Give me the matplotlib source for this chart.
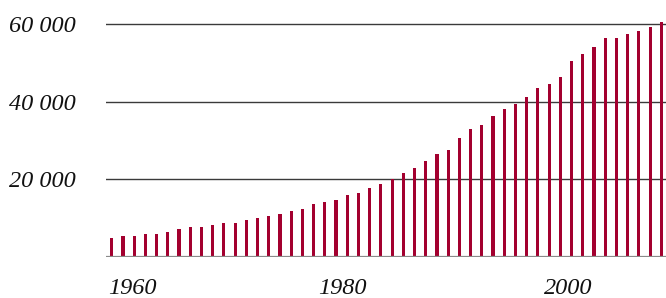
import matplotlib
matplotlib.use('Agg')
from matplotlib import pyplot as plt
import numpy as np

# yearly values
years = list(range(1959, 2009))
values = [4750, 5350, 5350, 5950, 5950, 6450, 7100, 7650, 7650, 8200,
          8800, 8800, 9400, 10000, 10500, 11100, 11700, 12300, 13550, 14150,
          14650, 15850, 16450, 17650, 18800, 20000, 21700, 22900, 24650, 26450,
          27550, 30600, 32900, 34050, 36450, 38150, 39400, 41200, 43500, 44600,
          46450, 50500, 52300, 54100, 56450, 56450, 57600, 58250, 59350, 60550]
ytick_vals = [20000, 40000, 60000]
ytick_labels = ['20 000', '40 000', '60 000']
xtick_labels = ['1960', '1980', '2000']

bar_color = '#a3002f'

fig = plt.figure(figsize=(6.66, 2.98), dpi=100)
ax = fig.add_axes([106 / 666, (298 - 256.7) / 298, 560 / 666, 256.7 / 298])

for v in ytick_vals:
    ax.axhline(v, color='#3a3a3a', lw=1.0, zorder=1)
ax.axhline(0, color='#8a8a8a', lw=1.6, zorder=3)

ax.bar(years, values, width=0.28, color=bar_color, zorder=2)

ax.set_xlim(1958.49, 2008.42)
ax.set_ylim(0, 66280)

for s in ax.spines.values():
    s.set_visible(False)

font = dict(family='Liberation Serif', style='italic', size=17.5, color='#111111')
ax.set_yticks(ytick_vals)
ax.set_yticklabels(ytick_labels, fontdict=font)
ax.tick_params(axis='y', length=0, pad=22)
# label positions as placed in the reference
ax.set_xticks([1960.85, 1979.57, 1999.67])
ax.set_xticklabels(xtick_labels, fontdict=font)
ax.tick_params(axis='x', length=0, pad=15)

fig.savefig('out.png', dpi=100)
